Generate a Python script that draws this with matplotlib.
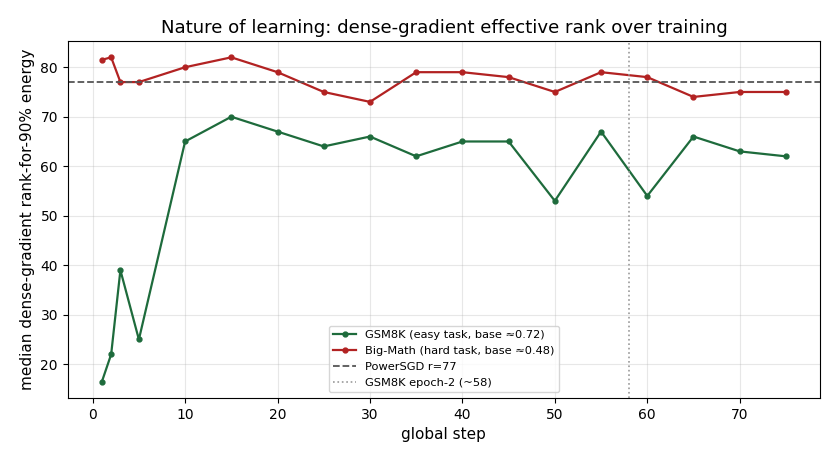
import numpy as np
import matplotlib.pyplot as plt

steps = [1, 2, 3, 5, 10, 15, 20, 25, 30, 35, 40, 45, 50, 55, 60, 65, 70, 75]
gsm8k_rank = [16.5, 22, 39, 25, 65, 70, 67, 64, 66, 62, 65, 65, 53, 67, 54, 66, 63, 62]
bigmath_rank = [81.5, 82, 77, 77, 80, 82, 79, 75, 73, 79, 79, 78, 75, 79, 78, 74, 75, 75]
powersgd_r = 77
epoch2_step = 58

fig, ax = plt.subplots(figsize=(8.36, 4.62), dpi=100)

ax.plot(steps, gsm8k_rank, "-o", color="#1e6b3c", markersize=3.5, linewidth=1.6,
        label="GSM8K (easy task, base \u22480.72)")
ax.plot(steps, bigmath_rank, "-o", color="#b22222", markersize=3.5, linewidth=1.6,
        label="Big-Math (hard task, base \u22480.48)")
ax.axhline(powersgd_r, color="#555555", linestyle="--", linewidth=1.3,
           label=f"PowerSGD r={powersgd_r}")
ax.axvline(epoch2_step, color="#999999", linestyle=":", linewidth=1.2,
           label=f"GSM8K epoch-2 (~{epoch2_step})")

ax.set_title("Nature of learning: dense-gradient effective rank over training", fontsize=13.1)
ax.set_xlabel("global step", fontsize=11)
ax.set_ylabel("median dense-gradient rank-for-90% energy", fontsize=11)
ax.grid(True, alpha=0.3)
ax.legend(loc="lower center", fontsize=8.2)

fig.subplots_adjust(left=0.081, right=0.981, top=0.911, bottom=0.139)
fig.savefig("out.png")
